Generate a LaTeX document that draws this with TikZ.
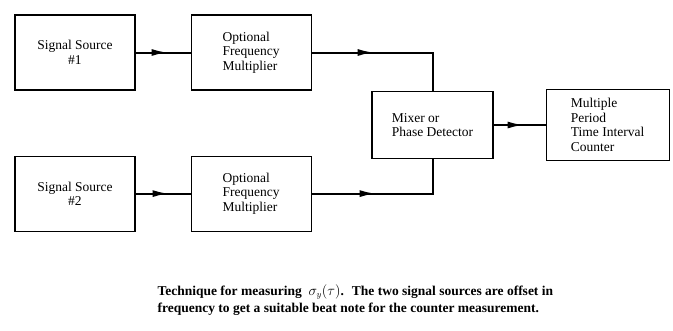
\documentclass[tikz,border=0pt]{standalone}
\usepackage{fontspec}
\setmainfont{Liberation Serif}
\usetikzlibrary{arrows.meta,positioning,decorations.markings}

\begin{document}
\begin{tikzpicture}[
        blk/.style={draw=black,line width=1.1pt,minimum width=120pt,minimum height=75pt,
                    align=left,font=\fontsize{13.5}{14.5}\selectfont},
        wire/.style={line width=2pt,line join=miter},
        tipat/.style={decoration={markings,
                    mark=at position #1 with {\arrow{Latex[length=16pt,width=7pt]}}},
                    postaction={decorate}}
      ]
        \useasboundingbox (0,0) rectangle (673pt,-330pt);
        \node[blk,align=center] (src1) at (75pt,-52.5pt) {Signal Source\\\#1};
        \node[blk,right=55pt of src1] (mult1) {Optional\\Frequency\\Multiplier};
        \node[blk,align=center,below=65pt of src1] (src2) {Signal Source\\\#2};
        \node[blk,right=55pt of src2] (mult2) {Optional\\Frequency\\Multiplier};
        \node[blk,minimum width=121pt,minimum height=67pt] (mix) at (432.5pt,-125pt)
          {Mixer or\\Phase Detector};
        \node[blk,minimum width=123pt,minimum height=71pt,right=52pt of mix] (count)
          {Multiple\\Period\\Time Interval\\Counter};
        \draw[wire,tipat=32pt] (src1) -- (mult1);
        \draw[wire,tipat=33pt] (src2) -- (mult2);
        \draw[wire,tipat=62pt] (mult1.east) -- (mult1.east -| mix.north) -- (mix.north);
        \draw[wire,tipat=64pt] (mult2.east) -- (mult2.east -| mix.south) -- (mix.south);
        \draw[wire,tipat=30pt] (mix) -- (count);
        \node[anchor=north west,align=left,font=\bfseries\fontsize{13.5}{17}\selectfont]
          (cap) at (154pt,-281pt)
          {Technique for measuring \ $\sigma_y(\tau)$. \ The two signal sources are offset in\\
           frequency to get a suitable beat note for the counter measurement.};
      \end{tikzpicture}
\end{document}
